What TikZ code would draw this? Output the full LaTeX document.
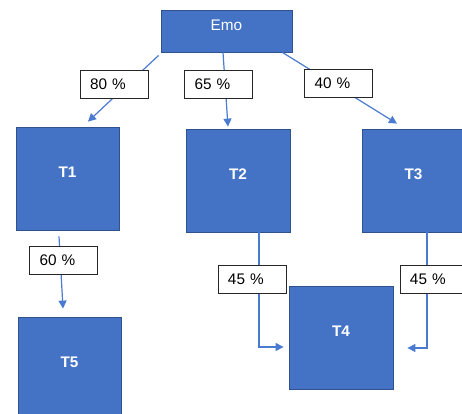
\documentclass[tikz,border=0pt]{standalone}
\usepackage{fontspec}
\setmainfont{Liberation Sans}
\usetikzlibrary{calc,arrows.meta}
\definecolor{boxfill}{HTML}{4472C4}
\definecolor{boxline}{HTML}{2F528F}
\definecolor{arrowc}{HTML}{4A7BD0}
\tikzset{
  tbox/.style={draw=boxline, fill=boxfill, line width=0.6pt, inner sep=0pt},
  pct/.style={draw=black!85, fill=white, line width=0.7pt, inner xsep=7.5pt, inner ysep=0pt,
    minimum height=21pt, text width=36pt, align=left, font=\fontsize{11.5}{13}\selectfont},
  conn/.style={draw=arrowc, line width=0.9pt, -{Triangle[length=6pt,width=6pt]}},
  btext/.style={text=white, font=\fontsize{11.5}{13}\selectfont\bfseries, yshift=5pt},
  etext/.style={text=white, font=\fontsize{11.5}{13}\selectfont, yshift=4.5pt}
}
\begin{document}
\begin{tikzpicture}[x=0.75pt,y=-0.75pt]
\clip (0,0) rectangle (462,414);
\useasboundingbox (0,0) rectangle (462,414);
\fill[white] (0,0) rectangle (462,414);
% boxes
\node[tbox, minimum width=98.25pt, minimum height=31.5pt] (emo) at (226.5,31) {};
\node[tbox, minimum width=77.25pt, minimum height=77.25pt] (t1) at (67.5,178.5) {};
\node[tbox, minimum width=78pt, minimum height=77.25pt] (t2) at (238,180.5) {};
\node[tbox, minimum width=77.25pt, minimum height=77.25pt] (t3) at (413.5,180.5) {};
\node[tbox, minimum width=78pt, minimum height=77.25pt] (t4) at (341,337.5) {};
\node[tbox, minimum width=77.25pt, minimum height=77.25pt] (t5) at (69.5,368.5) {};
\node[etext] (emot) at (emo.center) {Emo};
\node[btext] (t1t) at (t1.center) {T1};
\node[btext] (t2t) at (t2.center) {T2};
\node[btext] (t3t) at (t3.center) {T3};
\node[btext] (t4t) at (t4.center) {T4};
\node[btext] (t5t) at (t5.center) {T5};
% connectors
\draw[conn] ($(emo.south west)+(-2,3)$) -- ($(t1.north)+(20.5,-5)$);
\draw[conn] ($(emo.south)+(-3.5,0)$) -- ($(t2.north)+(-10,-2)$);
\draw[conn] ($(emo.south east)+(-10,0)$) -- ($(t3.north)+(-16.5,-5)$);
\draw[conn] ($(t1.south)+(-8.5,6)$) -- ($(t5.north)+(-6.5,-8)$);
\draw[conn] ($(t2.south)+(21,0)$) |- ($(t4.west)+(-5,9.5)$);
\draw[conn] ($(t3.south)+(13.5,0)$) |- ($(t4.east)+(14,10.5)$);
% labels
\node[pct] (l80) at (114,84) {80 \%};
\node[pct] (l65) at (218.5,84) {65 \%};
\node[pct] (l40) at (338.5,83.5) {40 \%};
\node[pct] (l60) at (63.5,260) {60 \%};
\node[pct] (l45a) at (252,279) {45 \%};
\node[pct] (l45b) at (434,279) {45 \%};
\end{tikzpicture}
\end{document}
